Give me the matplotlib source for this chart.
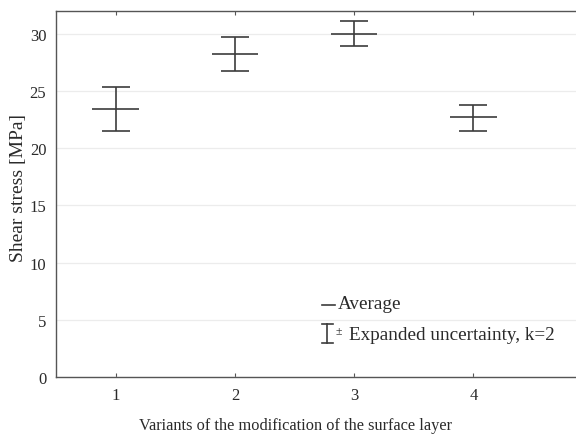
import matplotlib
matplotlib.use("Agg")
import matplotlib.pyplot as plt
from matplotlib.lines import Line2D

# Shear stress per surface-layer modification variant
variants = [1, 2, 3, 4]
means = [23.45, 28.26, 30.03, 22.69]
upper = [25.34, 29.72, 31.10, 23.80]
lower = [21.55, 26.77, 28.90, 21.55]

yticks = [0, 5, 10, 15, 20, 25, 30]

plt.rcParams['font.family'] = ['Liberation Serif', 'DejaVu Serif']
ink = '#3c3c3c'
txt = '#2a2a2a'

fig = plt.figure(figsize=(5.76, 4.35), dpi=100)
ax = fig.add_axes([0.0972, 0.131, 0.9028, 0.8414])

yerr = [[m - lo for m, lo in zip(means, lower)],
        [up - m for m, up in zip(means, upper)]]
ax.errorbar(variants, means, yerr=yerr, fmt='none', ecolor=ink,
            elinewidth=1.2, capsize=10, capthick=1.2, zorder=3)
half = 0.195
ax.hlines(means, [v - half for v in variants], [v + half for v in variants],
          colors=ink, linewidth=1.2, zorder=3)

ax.set_xlim(0.5, 4.86)
ax.set_ylim(0, 32)
ax.set_xticks(variants)
ax.set_yticks(yticks)
ax.grid(axis='y', color='#ececec', linewidth=0.9)
ax.set_axisbelow(True)

for side in ['left', 'bottom', 'top']:
    ax.spines[side].set_color('#555555')
    ax.spines[side].set_linewidth(1.0)
ax.spines['right'].set_visible(False)
ax.tick_params(axis='x', direction='in', length=3, top=True, color='#555555',
               labelsize=12, labelcolor=txt, pad=7)
ax.tick_params(axis='y', direction='in', length=0, color='#555555',
               labelsize=12, labelcolor=txt, pad=7)

ax.set_xlabel('Variants of the modification of the surface layer',
              fontsize=11.8, color=txt)
ax.xaxis.set_label_coords(0.4615, -0.108)
ax.set_ylabel('Shear stress [MPa]', fontsize=14, color=txt)
ax.yaxis.set_label_coords(-0.056, 0.52)

# Key, drawn in axes fraction coordinates
T = ax.transAxes
ax.add_line(Line2D([0.512, 0.536], [0.197, 0.197], color=ink, lw=1.2, transform=T))
ax.text(0.542, 0.200, 'Average', transform=T, fontsize=13.8, color=txt, va='center')
ax.add_line(Line2D([0.5215, 0.5215], [0.093, 0.146], color=ink, lw=1.2, transform=T))
ax.add_line(Line2D([0.511, 0.532], [0.146, 0.146], color=ink, lw=1.2, transform=T))
ax.add_line(Line2D([0.511, 0.532], [0.093, 0.093], color=ink, lw=1.2, transform=T))
ax.text(0.537, 0.126, '±', transform=T, fontsize=8.5, color=txt, va='center')
ax.text(0.563, 0.115, 'Expanded uncertainty, k=2', transform=T, fontsize=13.8,
        color=txt, va='center')

fig.savefig('out.png', dpi=100)
